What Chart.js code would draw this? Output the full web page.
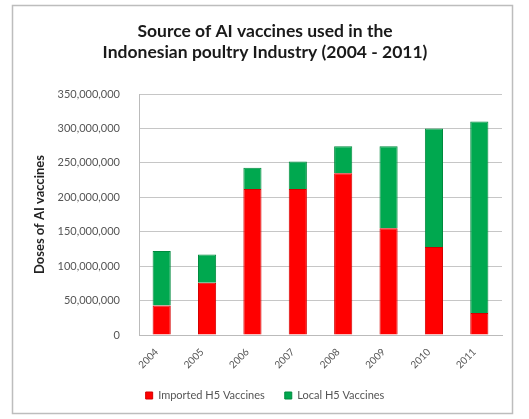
<!DOCTYPE html>
<html>
<head>
<meta charset="utf-8">
<script src="https://cdn.jsdelivr.net/npm/chart.js@4/dist/chart.umd.min.js"></script>
<style>
html,body{margin:0;padding:0;background:#fff;}
#wrap{width:529px;height:419px;position:relative;}
</style>
</head>
<body>
<div id="wrap"><canvas id="c" width="529" height="419"></canvas></div>
<script>
const years = ['2004','2005','2006','2007','2008','2009','2010','2011'];
const importedH5 = [43000000, 76000000, 212000000, 212000000, 235000000, 155000000, 128000000, 32000000];
const localH5 = [79000000, 41000000, 31000000, 40000000, 39000000, 119000000, 172000000, 278000000];
const seriesNames = ['Imported H5 Vaccines', 'Local H5 Vaccines'];
const titleLines = ['Source of AI vaccines used in the', 'Indonesian poultry Industry (2004 - 2011)'];
const yAxisTitle = 'Doses of AI vaccines';

const frame = {
  id: 'frame',
  beforeDraw(chart) {
    const ctx = chart.ctx;
    ctx.save();
    ctx.fillStyle = '#ffffff';
    ctx.fillRect(0, 0, chart.width, chart.height);
    ctx.strokeStyle = '#bdbdbd';
    ctx.lineWidth = 1.5;
    ctx.strokeRect(12.5, 5.5, 500, 408);
    ctx.restore();
  }
};

new Chart(document.getElementById('c'), {
  type: 'bar',
  data: {
    labels: years,
    datasets: [
      { label: seriesNames[0], data: importedH5, backgroundColor: '#ff0000', borderColor: '#d40000', borderWidth: 1 },
      { label: seriesNames[1], data: localH5, backgroundColor: '#00a84f', borderColor: '#008a3e', borderWidth: 1 }
    ]
  },
  plugins: [frame],
  options: {
    responsive: false,
    animation: false,
    layout: { padding: { left: 28, right: 27, top: 21, bottom: 8 } },
    datasets: { bar: { barPercentage: 0.4, categoryPercentage: 1 } },
    plugins: {
      title: {
        display: true,
        text: titleLines,
        font: { family: 'Lato', size: 17.5, weight: 'bold' },
        color: '#1a1a1a',
        lineHeight: 0.95,
        padding: { top: 0, bottom: 31 }
      },
      legend: {
        position: 'bottom',
        labels: {
          boxWidth: 7, boxHeight: 7,
          font: { family: 'Lato', size: 11 },
          color: '#555',
          padding: 20
        }
      },
      tooltip: { enabled: false }
    },
    scales: {
      x: {
        stacked: true,
        grid: { display: false },
        border: { color: '#bbb' },
        afterFit(scale) { scale.height -= 4; },
        ticks: {
          maxRotation: 45, minRotation: 45,
          labelOffset: -5,
          font: { family: 'Lato', size: 10 },
          color: '#555'
        }
      },
      y: {
        stacked: true,
        min: 0, max: 350000000,
        afterFit(scale) { scale.width = 111; },
        grid: { color: '#c6c6c6', drawTicks: false },
        border: { color: '#bbb' },
        ticks: {
          stepSize: 50000000,
          padding: 19,
          font: { family: 'Lato', size: 11 },
          color: '#555',
          callback: v => v.toLocaleString('en-US')
        },
        title: {
          display: true,
          text: yAxisTitle,
          font: { family: 'Lato', size: 13, weight: 'bold' },
          color: '#222',
          padding: { top: 4, bottom: 0 }
        }
      }
    }
  }
});
</script>
</body>
</html>
